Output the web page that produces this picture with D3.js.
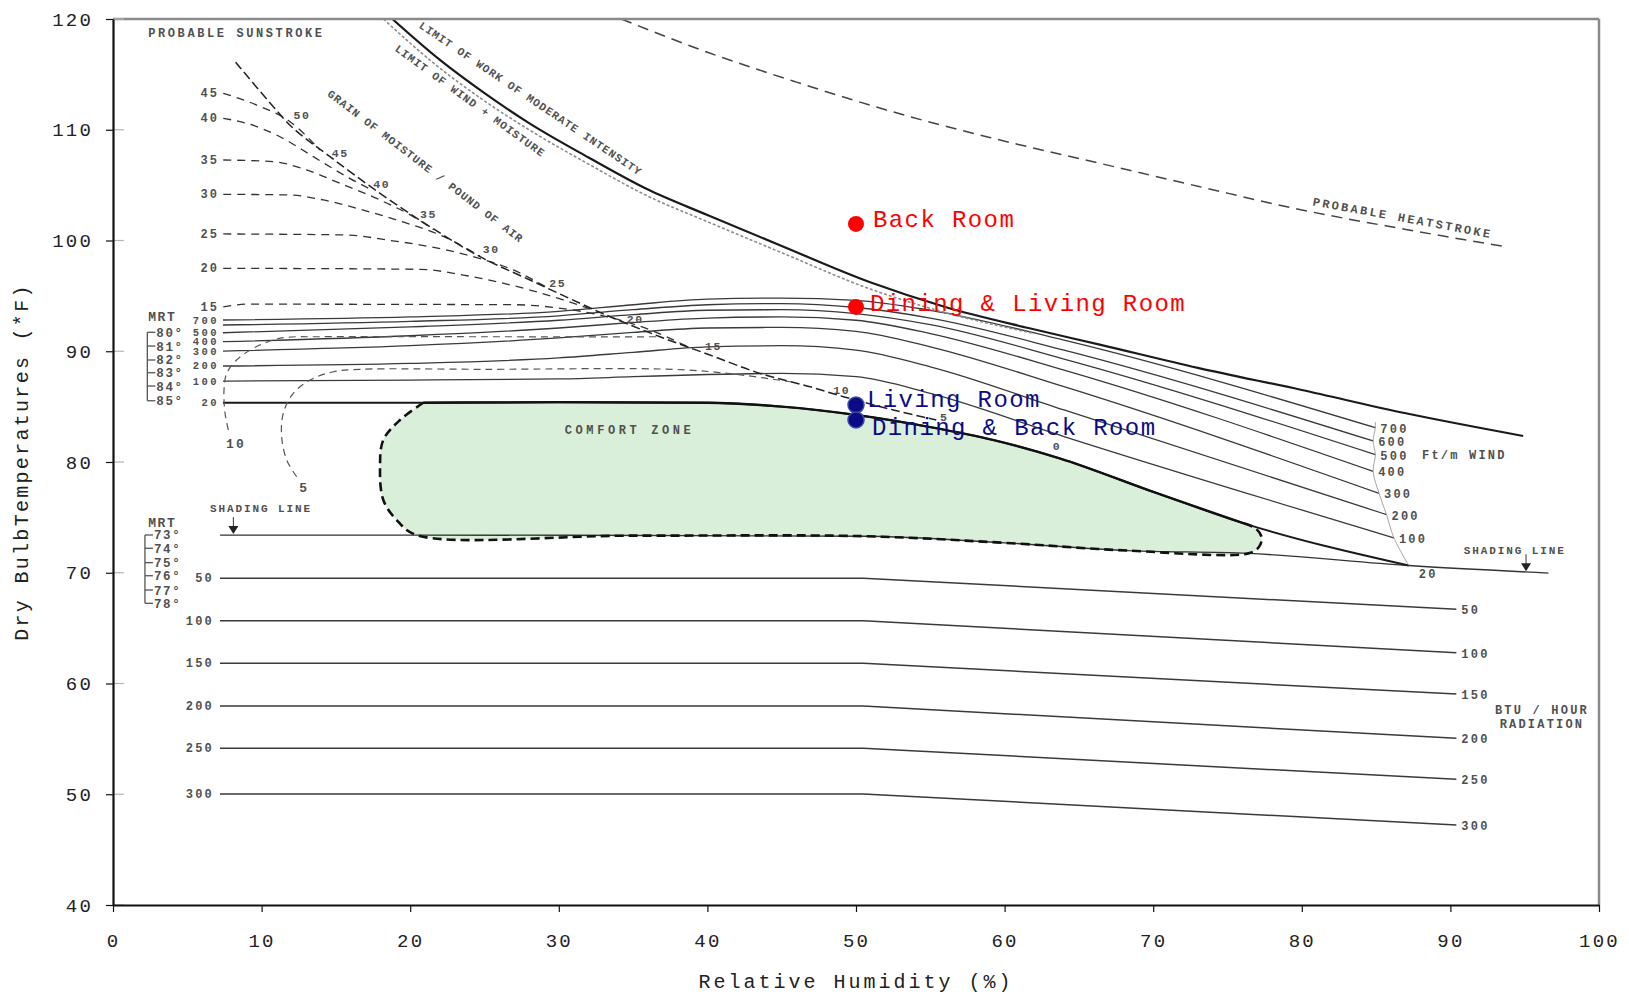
<!DOCTYPE html>
<html>
<head>
<meta charset="utf-8">
<script src="https://cdn.jsdelivr.net/npm/d3@7"></script>
<style>
  body { margin: 0; background: #fff; }
  svg { display: block; }
  text { font-family: "Liberation Mono", "DejaVu Sans Mono", monospace; }
</style>
</head>
<body>
<svg id="chart" width="1629" height="998"></svg>
<script>
// ---------------- DATA (Relative humidity %, Dry bulb °F) ----------------
const xTicks = [0, 10, 20, 30, 40, 50, 60, 70, 80, 90, 100];
const yTicks = [40, 50, 60, 70, 80, 90, 100, 110, 120];

const pointNames = ["Back Room", "Dining & Living Room", "Living Room", "Dining & Back Room"];
const pointRH    = [50, 50, 50, 50];
const pointTemp  = [101.5, 94.0, 85.15, 83.8];
const pointGroup = ["outside", "outside", "inside", "inside"];

const windLabels = ["700", "600", "500", "400", "300", "200", "100", "20"];
const wind700 = [[7.4,92.82],[20,93.1],[30,93.6],[35,94.2],[40,94.7],[45,94.8],[50,94.6],[55,93.7],[64,91.0],[84.95,83.1]];
const wind600 = [[7.4,92.37],[20,92.7],[30,93.2],[35,93.75],[40,94.2],[45,94.3],[50,93.95],[55,93.0],[64,90.1],[84.8,81.9]];
const wind500 = [[7.4,91.67],[20,92.2],[30,92.8],[35,93.3],[40,93.7],[45,93.75],[50,93.4],[55,92.4],[64,89.3],[84.95,80.66]];
const wind400 = [[7.4,90.86],[20,91.4],[30,92.1],[35,92.6],[40,93.0],[45,93.1],[50,92.8],[55,91.6],[64,88.3],[84.8,79.16]];
const wind300 = [[7.4,90.02],[20,90.5],[30,91.2],[35,91.7],[40,92.1],[45,92.15],[50,91.8],[55,90.4],[64,86.8],[85.2,77.17]];
const wind200 = [[7.4,88.67],[20,88.9],[30,89.4],[35,89.9],[40,90.4],[45,90.5],[50,90.1],[55,88.6],[64,84.7],[85.7,75.25]];
const wind100 = [[7.4,87.31],[20,87.4],[30,87.5],[35,87.7],[40,87.9],[45,88.0],[50,87.7],[55,86.2],[64,82.3],[86.2,73.15]];
const wind20  = [[7.4,85.35],[20.88,85.35],[30,85.4],[40,85.35],[45,85.0],[50,84.25],[55,83.15],[59.2,82.0],[63.7,80.33],[70,77.3],[76.1,74.46],[87.2,70.65]];
const windCurves = [wind700, wind600, wind500, wind400, wind300, wind200, wind100, wind20];

const radiationLabels = ["50", "100", "150", "200", "250", "300"];
const radiationCurves = [
  [[7.2,69.5],[50.5,69.5],[90.4,66.7]],
  [[7.2,65.67],[50.5,65.67],[90.4,62.78]],
  [[7.2,61.82],[50.5,61.82],[90.4,59.05]],
  [[7.2,57.97],[50.5,57.97],[90.4,55.05]],
  [[7.2,54.15],[50.5,54.15],[90.4,51.35]],
  [[7.2,50.02],[50.5,50.02],[90.4,47.22]]
];

const shadingLine = [[7.2,73.4],[20.44,73.4],[50.5,73.3],[60,72.7],[68.3,72.0],[76.4,71.75],[87.2,70.65],[96.6,69.97]];

const comfortTop = [[20.88,85.35],[30,85.4],[40,85.35],[45,85.0],[50,84.25],[55,83.15],[59.2,82.0],[63.7,80.33],[70,77.3],[76.1,74.46]];
const comfortEdge = [[76.1,74.46],[76.9,74.0],[77.3,73.2],[77.1,72.3],[76.4,71.75],[68.3,72.0],[60,72.7],[50.5,73.3],[35,73.35],[20.44,73.4],[19.09,74.76],[18.19,76.57],[17.97,79.58],[18.19,81.99],[19.31,83.79],[20.88,85.35]];

const grainLabels = ["45", "40", "35", "30", "25", "20", "15"];
const grainCurves = [
  [[7.42,113.29],[9.67,112.23],[11.91,110.73],[13.93,108.17]],
  [[7.42,111.03],[9.0,110.58],[11.24,109.37],[13.48,107.57],[15.73,105.76],[17.52,104.5]],
  [[7.42,107.27],[10.79,107.12],[13.03,106.37],[15.28,105.16],[17.97,103.66],[20.21,102.15],[21.56,101.0]],
  [[7.42,104.17],[11.91,104.11],[14.15,103.66],[16.4,102.91],[19.09,101.85],[22.0,100.5],[24.7,98.6]],
  [[7.42,100.59],[15.73,100.5],[18.42,100.05],[21.33,99.44],[24.25,98.54],[26.94,97.34],[29.18,95.78]],
  [[7.42,97.49],[20.66,97.4],[23.57,96.88],[25.82,96.28],[28.06,95.53],[30.3,94.63],[32.55,93.62]],
  [[7.42,94.0],[9,94.25],[27,94.2],[30,93.9],[33,93.2],[36,92.0],[39,90.2]]
];
const grainDiagonal = [[8.25,116.1],[10.79,112.08],[12.13,110.13],[14.6,107.57],[17.97,104.26],[21.33,101.25],[24.7,98.54],[28.06,96.43],[31.43,94.33],[33.45,93.12],[36.81,91.31],[40.17,89.66],[43.54,88.0],[46.9,86.8],[49.15,85.9],[52.51,84.7],[55.4,83.8]];
const diagonalLabels = ["50", "45", "40", "35", "30", "25", "20", "15", "10", "5", "0"];
const diagonalLabelAt = [[12.14,110.94],[14.72,107.51],[17.52,104.77],[20.66,102.06],[24.88,98.84],[29.36,95.83],[34.57,92.58],[39.84,90.1],[48.47,86.14],[55.65,83.73],[63.24,81.08]];

const hookLabels = ["10", "5"];
const hookCurves = [
  [[7.76,82.89],[7.54,84.4],[7.47,86.5],[7.65,88.0],[8.32,89.21],[9.44,90.27],[10.79,91.02],[11.69,91.26],[14,91.31],[25,91.31],[33,91.3],[36.8,91.31]],
  [[12.36,78.67],[11.69,80.18],[11.35,82.28],[11.46,84.4],[12.13,86.2],[13.26,87.4],[14.83,88.15],[16.62,88.37],[25,88.37],[38,88.35],[42,87.9],[45.8,87.2]]
];
const hookLabelAt = [[7.6,81.3],[12.54,77.32]];

const limitWork = [[18.8,120],[22,116.3],[25,113.3],[28,110.6],[32,107.5],[36,104.6],[40,102.3],[45,99.5],[51,96.2],[56,94.0],[61.6,92.1],[66.4,90.6],[73,88.5],[80,86.5],[87,84.4],[94.9,82.35]];
const limitWindMoisture = [[18.2,120],[21.5,116.1],[25,112.6],[28,110.0],[32,106.9],[36,104.0],[40,101.7],[45,98.9],[51,95.6],[56,93.5],[62,91.6]];
const heatstroke = [[34.2,120],[40,117.0],[46,114.3],[52,111.8],[59,109.3],[66.4,106.97],[73,104.9],[80,102.76],[87,101.0],[93.7,99.44]];

const mrtHigh = ["80°", "81°", "82°", "83°", "84°", "85°"];
const mrtHighT = [91.71, 90.47, 89.21, 88.06, 86.86, 85.53];
const mrtLow = ["73°", "74°", "75°", "76°", "77°", "78°"];
const mrtLowT = [73.41, 72.21, 70.91, 69.73, 68.44, 67.24];

// ---------------- SETUP ----------------
const svg = d3.select("#chart");
const x = d3.scaleLinear().domain([0, 100]).range([113, 1599]);
const y = d3.scaleLinear().domain([40, 120]).range([905, 19]);

const lineMono = d3.line().x(d => x(d[0])).y(d => y(d[1])).curve(d3.curveMonotoneX);
const lineLin = d3.line().x(d => x(d[0])).y(d => y(d[1]));
const lineCR = d3.line().x(d => x(d[0])).y(d => y(d[1])).curve(d3.curveCatmullRom.alpha(0.5));

svg.append("defs").append("clipPath").attr("id", "plotclip")
  .append("rect").attr("x", 113).attr("y", 19).attr("width", 1486).attr("height", 886);

const plot = svg.append("g").attr("clip-path", "url(#plotclip)");
const ann = svg.append("g");

function small(g, txt, rh, t, opts = {}) {
  const el = g.append("text")
    .attr("x", x(rh) + (opts.dx || 0))
    .attr("y", y(t) + (opts.dy || 0))
    .attr("font-size", opts.size || 12)
    .attr("font-weight", "bold")
    .attr("fill", opts.fill || "#505050")
    .attr("text-anchor", opts.anchor || "start")
    .style("letter-spacing", (opts.ls == null ? 2.2 : opts.ls) + "px")
    .text(txt);
  if (opts.rotate != null) {
    el.attr("transform", `rotate(${opts.rotate},${x(rh)},${y(t)})`);
  }
  return el;
}

// ---------------- COMFORT ZONE FILL ----------------
plot.append("path")
  .attr("d", lineMono(comfortTop) + lineCR(comfortEdge).replace(/^M/, "L") + "Z")
  .attr("fill", "#d9efd9")
  .attr("stroke", "none");

// ---------------- RADIATION LINES ----------------
plot.selectAll(".rad").data(radiationCurves).join("path")
  .attr("d", lineLin).attr("fill", "none")
  .attr("stroke", "#3a3a3a").attr("stroke-width", 1.5)
  .attr("stroke-linejoin", "round");

radiationCurves.forEach((c, i) => {
  small(ann, radiationLabels[i], c[0][0], c[0][1], { dx: -6, dy: 4, anchor: "end" });
  const e = c[c.length - 1];
  small(ann, radiationLabels[i], e[0], e[1], { dx: 5, dy: 5 });
});

// ---------------- SHADING LINE ----------------
plot.append("path").attr("d", lineMono(shadingLine)).attr("fill", "none")
  .attr("stroke", "#333").attr("stroke-width", 1.4);

// ---------------- WIND LINES ----------------
plot.selectAll(".wind").data(windCurves).join("path")
  .attr("d", lineMono).attr("fill", "none")
  .attr("stroke", (d, i) => i === windCurves.length - 1 ? "#1a1a1a" : "#3a3a3a")
  .attr("stroke-width", (d, i) => i === windCurves.length - 1 ? 2 : 1.3);

const windEnds = windCurves.map(c => c[c.length - 1]);
plot.append("path")
  .attr("d", lineCR([[windEnds[0][0], windEnds[0][1] + 0.5]].concat(windEnds)))
  .attr("fill", "none").attr("stroke", "#9a9a9a").attr("stroke-width", 0.9);

windCurves.forEach((c, i) => {
  const lbl = windLabels[i];
  if (lbl !== "600") small(ann, lbl, c[0][0], c[0][1], { dx: -4, dy: 3.5, anchor: "end", size: 10.5, ls: 2.4 });
  if (lbl !== "20") {
    const e = c[c.length - 1];
    small(ann, lbl, e[0], e[1], { dx: 5, dy: 5 });
  }
});
small(ann, "20", 87.87, 69.55);
small(ann, "Ft/m WIND", 88.09, 80.27);

// ---------------- GRAIN (MOISTURE) CURVES ----------------
plot.selectAll(".grain").data(grainCurves).join("path")
  .attr("d", lineMono).attr("fill", "none")
  .attr("stroke", "#333").attr("stroke-width", 1.3)
  .attr("stroke-dasharray", "8,6");
grainCurves.forEach((c, i) => {
  small(ann, grainLabels[i], c[0][0], c[0][1], { dx: -4, dy: 4, anchor: "end" });
});

plot.append("path").attr("d", lineCR(grainDiagonal)).attr("fill", "none")
  .attr("stroke", "#222").attr("stroke-width", 1.5).attr("stroke-dasharray", "9,4");
diagonalLabels.forEach((l, i) => {
  small(ann, l, diagonalLabelAt[i][0], diagonalLabelAt[i][1], { size: 11.5, ls: 1.6 });
});

plot.selectAll(".hook").data(hookCurves).join("path")
  .attr("d", lineCR).attr("fill", "none")
  .attr("stroke", "#555").attr("stroke-width", 1.2)
  .attr("stroke-dasharray", "7,5");
hookLabels.forEach((l, i) => small(ann, l, hookLabelAt[i][0], hookLabelAt[i][1], { size: 13 }));

// ---------------- LIMIT & HEATSTROKE LINES ----------------
plot.append("path").attr("d", lineMono(limitWindMoisture)).attr("fill", "none")
  .attr("stroke", "#8c8c8c").attr("stroke-width", 1.6).attr("stroke-dasharray", "3,2");
plot.append("path").attr("d", lineMono(limitWork)).attr("fill", "none")
  .attr("stroke", "#1a1a1a").attr("stroke-width", 2.2);
plot.append("path").attr("d", lineMono(heatstroke)).attr("fill", "none")
  .attr("stroke", "#444").attr("stroke-width", 1.5).attr("stroke-dasharray", "11,7");

// ---------------- COMFORT OUTLINE ----------------
plot.append("path").attr("d", lineMono(comfortTop)).attr("fill", "none")
  .attr("stroke", "#111").attr("stroke-width", 2.3);
plot.append("path").attr("d", lineCR(comfortEdge)).attr("fill", "none")
  .attr("stroke", "#111").attr("stroke-width", 2.6).attr("stroke-dasharray", "9,5");

// ---------------- TEXT ANNOTATIONS ----------------
small(ann, "PROBABLE SUNSTROKE", 2.37, 118.33, { ls: 2.6 });
small(ann, "PROBABLE HEATSTROKE", 86.74, 101.7, { anchor: "middle", rotate: 10.4, ls: 2.4 });
small(ann, "GRAIN OF MOISTURE / POUND OF AIR", 20.88, 106.44, { anchor: "middle", rotate: 37.5, size: 11, ls: 1 });
small(ann, "LIMIT OF WORK OF MODERATE INTENSITY", 27.97, 112.53, { anchor: "middle", rotate: 34, size: 11, ls: 1 });
small(ann, "LIMIT OF WIND + MOISTURE", 23.89, 112.33, { anchor: "middle", rotate: 36, size: 11, ls: 1 });
small(ann, "COMFORT ZONE", 30.4, 82.55, { ls: 3.6 });
small(ann, "SHADING LINE", 6.53, 75.49, { size: 11, ls: 1.9 });
small(ann, "SHADING LINE", 90.9, 71.7, { size: 11, ls: 1.9 });
small(ann, "BTU / HOUR", 96.16, 57.25, { anchor: "middle" });
small(ann, "RADIATION", 96.16, 55.98, { anchor: "middle" });

// shading arrows
[[8.1, 73.4], [95.09, 70.05]].forEach(([rh, t]) => {
  const px = x(rh), py = y(t);
  ann.append("line").attr("x1", px).attr("x2", px).attr("y1", py - 18).attr("y2", py - 8)
    .attr("stroke", "#333").attr("stroke-width", 1);
  ann.append("path").attr("d", `M${px - 5},${py - 9}L${px + 5},${py - 9}L${px},${py - 1}Z`).attr("fill", "#222");
});

// MRT brackets
function mrt(labels, temps, headT, bx) {
  small(ann, "MRT", 2.37, headT, { dy: 4, size: 13, ls: 1.6 });
  const x0 = x(bx);
  ann.append("line").attr("x1", x0).attr("x2", x0)
    .attr("y1", y(temps[0])).attr("y2", y(temps[temps.length - 1]))
    .attr("stroke", "#555").attr("stroke-width", 1.3);
  labels.forEach((l, i) => {
    ann.append("line").attr("x1", x0).attr("x2", x0 + 8)
      .attr("y1", y(temps[i])).attr("y2", y(temps[i]))
      .attr("stroke", "#555").attr("stroke-width", 1.3);
    small(ann, l, bx, temps[i], { dx: 9, dy: 4.5, size: 12.5, ls: 1.6 });
  });
}
mrt(mrtHigh, mrtHighT, 93.12, 2.31);
mrt(mrtLow, mrtLowT, 74.52, 2.15);

// ---------------- DATA POINTS ----------------
const labelOffset = [[17, 3], [14, 4], [11, 2], [16, 15]];
const pointColor = { outside: "#ff0000", inside: "#0b0b85" };
svg.selectAll(".pt").data(pointNames).join("circle")
  .attr("cx", (d, i) => x(pointRH[i]))
  .attr("cy", (d, i) => y(pointTemp[i]))
  .attr("r", 8)
  .attr("fill", (d, i) => pointColor[pointGroup[i]])
  .attr("stroke", (d, i) => pointGroup[i] === "inside" ? "#3a48a8" : "none")
  .attr("stroke-width", 1.5);
svg.selectAll(".ptl").data(pointNames).join("text")
  .attr("x", (d, i) => x(pointRH[i]) + labelOffset[i][0])
  .attr("y", (d, i) => y(pointTemp[i]) + labelOffset[i][1])
  .attr("font-size", 24)
  .style("letter-spacing", "1.4px")
  .attr("fill", (d, i) => pointGroup[i] === "inside" ? "#0b0b85" : "#ff0000")
  .text(d => d);

// ---------------- AXES ----------------
svg.append("line").attr("x1", 113).attr("x2", 1599).attr("y1", 19).attr("y2", 19)
  .attr("stroke", "#8a8a8a").attr("stroke-width", 2.5);
svg.append("line").attr("x1", 1599).attr("x2", 1599).attr("y1", 19).attr("y2", 905)
  .attr("stroke", "#8a8a8a").attr("stroke-width", 2.5);

// inner grey ticks
svg.selectAll(".itick").data(yTicks).join("line")
  .attr("x1", 114).attr("x2", 124).attr("y1", d => y(d)).attr("y2", d => y(d))
  .attr("stroke", "#b5b5b5").attr("stroke-width", 1.2);

const yAxis = svg.append("g").attr("transform", "translate(113,0)")
  .call(d3.axisLeft(y).tickValues(yTicks).tickSize(7).tickSizeOuter(0).tickPadding(13));
const xAxis = svg.append("g").attr("transform", "translate(0,905)")
  .call(d3.axisBottom(x).tickValues(xTicks).tickSize(7).tickSizeOuter(0).tickPadding(22));

[yAxis, xAxis].forEach(g => {
  g.attr("font-family", null).attr("font-size", null);
  g.select(".domain").attr("stroke", "#111").attr("stroke-width", 2.2);
  g.selectAll(".tick line").attr("stroke", "#111").attr("stroke-width", 1.2);
  g.selectAll(".tick text").attr("font-size", 19).attr("fill", "#222")
    .style("letter-spacing", "2.2px");
});

svg.append("text").attr("x", x(50)).attr("y", 988)
  .attr("text-anchor", "middle").attr("font-size", 20).attr("fill", "#222")
  .style("letter-spacing", "3px").text("Relative Humidity (%)");
svg.append("text").attr("transform", `translate(28,${(19 + 905) / 2}) rotate(-90)`)
  .attr("text-anchor", "middle").attr("font-size", 20).attr("fill", "#222")
  .style("letter-spacing", "2.3px").text("Dry BulbTemperatures (*F)");
</script>
</body>
</html>
